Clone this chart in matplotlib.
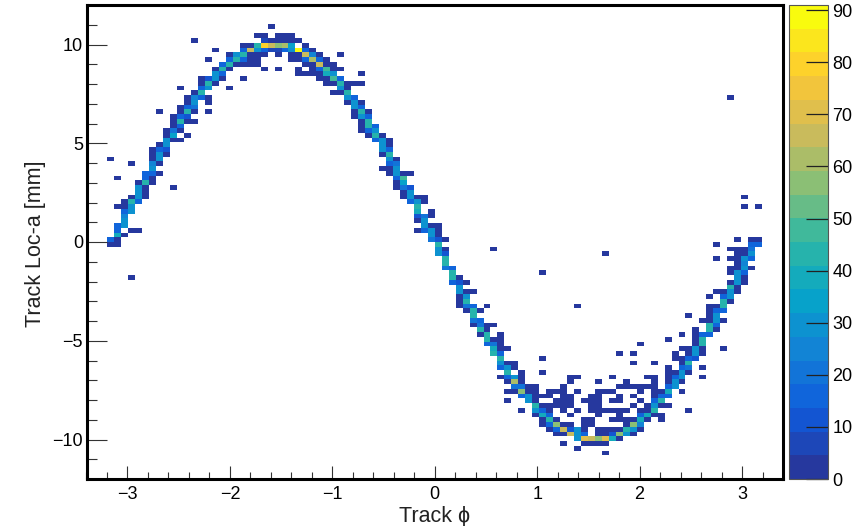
import matplotlib
matplotlib.use('Agg')

import matplotlib.pyplot as plt
from matplotlib.colors import BoundaryNorm, LinearSegmentedColormap, ListedColormap
from matplotlib.ticker import MultipleLocator
import numpy as np

plt.rcParams['font.family'] = ['Liberation Sans', 'DejaVu Sans']

# 2D histogram binning
n_bins = 100
phi_min, phi_max = -3.4, 3.4
loc_min, loc_max = -12, 12
z_max = 91

# ROOT kBird palette stops, first one nudged to the bluer navy of the picture
bird_colors = [(0.15, 0.22, 0.62), (0.0592, 0.3599, 0.8684), (0.0780, 0.5041, 0.8385),
               (0.0232, 0.6419, 0.7914), (0.1802, 0.7178, 0.6425), (0.5301, 0.7492, 0.4662),
               (0.8186, 0.7328, 0.3499), (0.9956, 0.7862, 0.1968), (0.9764, 0.9832, 0.0539)]

# filled bins read row by row: loc bin, phi bins in that row, entries in those bins
loc_rows = [5, 6, 7, 8, 9, 10, 11, 12, 13, 14, 15, 16, 17, 18, 19, 20, 21, 22, 23, 24, 25, 26, 27, 28, 29, 30,
            31, 32, 33, 34, 35, 36, 37, 38, 39, 40, 41, 42, 43, 44, 45, 46, 47, 48, 49, 50, 51, 52, 53, 54, 55,
            56, 57, 58, 59, 60, 61, 62, 63, 64, 65, 66, 67, 68, 69, 70, 71, 72, 73, 74, 75, 76, 77, 78, 79, 80,
            81, 82, 83, 84, 85, 86, 87, 88, 89, 90, 91, 92, 93, 95]

phi_by_row = [
    [74],
    [70],
    [68, 71, 72, 73, 74],
    [70, 71, 72, 73, 74, 75, 76],
    [67, 68, 69, 70, 71, 73, 74, 75, 76, 77, 78],
    [66, 67, 68, 69, 70, 71, 73, 74, 75, 76, 77, 78, 79],
    [65, 66, 67, 68, 69, 71, 72, 77, 78, 79],
    [65, 66, 67, 71, 72, 75, 76, 77, 78, 79, 80, 82],
    [64, 65, 66, 69, 73, 76, 79, 80, 81, 82],
    [62, 64, 65, 66, 68, 70, 72, 73, 74, 75, 76, 77, 79, 80, 81, 86],
    [64, 65, 66, 67, 68, 69, 72, 73, 78, 80, 81, 82, 83],
    [60, 63, 64, 67, 68, 69, 71, 72, 73, 75, 76, 79, 81, 82],
    [62, 63, 64, 65, 66, 68, 69, 72, 73, 76, 78, 81, 82, 83],
    [60, 61, 62, 63, 64, 66, 67, 68, 70, 73, 74, 75, 79, 81, 82, 83, 85],
    [61, 62, 63, 64, 68, 76, 77, 78, 79, 80, 81, 83, 84],
    [60, 61, 62, 69, 73, 77, 81, 83, 84, 85],
    [59, 60, 61, 62, 69, 70, 75, 80, 81, 83, 84, 85, 88],
    [60, 62, 65, 83, 84, 85, 86],
    [59, 60, 61, 83, 85, 86, 88],
    [59, 60, 61, 78, 81, 85, 86],
    [59, 65, 84, 85, 86, 87],
    [58, 59, 76, 78, 84, 86, 87, 88],
    [58, 59, 60, 85, 86, 87, 88, 91],
    [57, 58, 59, 79, 87, 88],
    [57, 58, 59, 83, 87, 88],
    [56, 57, 59, 85, 87, 88, 89],
    [56, 57, 87, 89, 90],
    [55, 56, 57, 58, 89, 90],
    [55, 56, 88, 89, 90, 91],
    [55, 86, 89, 90],
    [54, 55, 56, 89, 90, 91],
    [53, 54, 55, 57, 70, 89, 90, 91],
    [53, 54, 91, 92],
    [53, 54, 89, 91, 92],
    [53, 54, 55, 90, 91, 92, 93],
    [53, 92, 93],
    [52, 53, 54, 92, 93, 94],
    [6, 52, 53, 93, 94],
    [52, 65, 92, 93, 94],
    [51, 52, 92, 93, 94, 95],
    [51, 93, 94],
    [51, 90, 92, 93, 94, 95],
    [50, 51, 74, 93, 94, 95],
    [50, 51, 58, 92, 93, 94, 95],
    [3, 4, 50, 90, 95, 96],
    [3, 4, 49, 50, 51, 93, 95, 96],
    [4, 5, 49, 50],
    [4, 6, 7, 47, 48, 49, 50],
    [4, 5, 48, 49, 50],
    [5, 47, 48],
    [5, 47, 48, 49],
    [5, 6, 47, 49],
    [4, 5, 6, 47, 94, 96],
    [5, 6, 7, 46, 47, 48],
    [6, 7, 8, 45, 46, 47, 48, 94],
    [7, 8, 45, 46],
    [7, 8, 12, 44, 45, 46],
    [7, 8, 9, 44, 45],
    [4, 8, 9, 44, 45],
    [8, 9, 10, 43, 44, 45, 46],
    [9, 42, 43, 44],
    [6, 9, 10, 43, 44],
    [3, 9, 10, 43, 44],
    [9, 10, 11, 42, 43],
    [9, 10, 11, 42, 43],
    [10, 11, 42, 43],
    [11, 12, 13, 41, 42, 43],
    [11, 12, 14, 40, 41, 42],
    [11, 12, 13, 39, 40, 41],
    [12, 13, 39, 40, 41],
    [12, 13, 14, 15, 39, 40],
    [12, 13, 14, 38, 39, 40],
    [10, 13, 14, 15, 17, 38, 39, 40],
    [13, 14, 15, 38, 39],
    [14, 15, 17, 37, 38, 39],
    [14, 15, 16, 17, 37, 38, 92],
    [15, 16, 35, 36, 37],
    [13, 16, 17, 20, 36, 37],
    [16, 17, 18, 34, 35, 36, 37, 38, 39],
    [16, 17, 18, 19, 22, 33, 34, 35, 36],
    [18, 19, 30, 31, 32, 33, 34, 35, 39],
    [18, 19, 20, 25, 27, 30, 32, 33, 34, 35, 36],
    [19, 20, 21, 22, 23, 24, 31, 32, 33, 34, 35],
    [17, 20, 21, 22, 23, 24, 29, 30, 31, 32, 33, 34],
    [20, 21, 22, 23, 24, 25, 27, 29, 30, 31, 32, 33, 36],
    [18, 22, 23, 24, 25, 26, 27, 28, 29, 30, 31, 32],
    [22, 23, 24, 25, 26, 27, 28, 29, 31],
    [15, 25, 26, 27, 28, 29, 30],
    [24, 25, 27, 28, 29],
    [26],
]

counts_by_row = [
    [2],
    [2],
    [2, 2, 2, 2, 2],
    [28, 72, 66, 58, 72, 40, 2],
    [2, 2, 68, 30, 14, 2, 2, 11, 55, 28, 2],
    [2, 14, 66, 11, 28, 2, 2, 2, 2, 2, 42, 28, 2],
    [2, 14, 55, 2, 2, 2, 2, 2, 55, 25],
    [2, 42, 2, 2, 2, 2, 2, 2, 2, 40, 2, 2],
    [2, 40, 14, 2, 2, 2, 14, 40, 2, 2],
    [2, 30, 14, 2, 2, 2, 2, 2, 2, 2, 2, 2, 2, 2, 42, 2],
    [42, 2, 2, 2, 2, 2, 2, 2, 2, 2, 30, 2, 2],
    [2, 30, 2, 2, 2, 2, 2, 2, 2, 2, 2, 2, 14, 45],
    [14, 30, 2, 2, 2, 2, 2, 2, 2, 2, 2, 2, 14, 14],
    [2, 2, 55, 2, 2, 2, 2, 2, 2, 2, 2, 2, 2, 2, 2, 40, 2],
    [20, 20, 2, 2, 2, 2, 2, 2, 2, 2, 2, 14, 30],
    [2, 62, 2, 2, 2, 2, 2, 2, 30, 2],
    [2, 14, 30, 2, 2, 2, 2, 2, 2, 2, 14, 30, 2],
    [42, 2, 2, 2, 2, 30, 2],
    [14, 30, 2, 2, 14, 20, 2],
    [30, 2, 2, 2, 2, 2, 42],
    [42, 2, 2, 2, 14, 11],
    [42, 14, 2, 2, 2, 2, 30, 2],
    [40, 2, 2, 2, 2, 30, 2, 2],
    [14, 20, 2, 2, 2, 42],
    [42, 2, 2, 2, 2, 42],
    [2, 42, 2, 2, 2, 14, 14],
    [42, 2, 2, 42, 2],
    [2, 20, 2, 2, 42, 14],
    [20, 14, 2, 2, 30, 2],
    [42, 2, 2, 30],
    [2, 42, 2, 2, 14, 14],
    [2, 20, 14, 2, 2, 2, 2, 42],
    [2, 42, 42, 2],
    [2, 30, 2, 14, 28],
    [30, 2, 2, 2, 2, 28, 2],
    [30, 42, 2],
    [14, 11, 2, 2, 28, 2],
    [2, 42, 2, 28, 2],
    [42, 2, 2, 28, 14],
    [20, 14, 2, 2, 30, 2],
    [42, 2, 25],
    [42, 2, 2, 2, 30, 14],
    [30, 11, 2, 2, 2, 30],
    [30, 2, 2, 2, 2, 2, 20],
    [2, 2, 42, 2, 14, 14],
    [16, 2, 20, 11, 2, 2, 2, 2],
    [40, 2, 30, 2],
    [14, 2, 2, 2, 14, 30, 2],
    [16, 30, 30, 2, 2],
    [28, 2, 30],
    [25, 11, 20, 2],
    [14, 28, 40, 2],
    [2, 2, 30, 42, 2, 2],
    [2, 42, 14, 14, 30, 2],
    [2, 30, 2, 2, 30, 2, 2, 2],
    [30, 2, 2, 30],
    [30, 2, 2, 2, 20, 11],
    [2, 42, 2, 2, 35],
    [2, 14, 2, 14, 50],
    [14, 14, 2, 2, 30, 2, 2],
    [30, 2, 2, 30],
    [2, 25, 2, 14, 20],
    [2, 2, 30, 30, 2],
    [2, 30, 2, 2, 42],
    [2, 14, 11, 30, 14],
    [2, 30, 30, 2],
    [30, 2, 2, 14, 30, 2],
    [2, 35, 2, 2, 42, 2],
    [2, 20, 2, 2, 14, 30],
    [2, 14, 2, 42, 14],
    [2, 42, 2, 2, 2, 42],
    [2, 14, 11, 2, 30, 14],
    [2, 2, 42, 2, 2, 2, 42, 2],
    [2, 14, 20, 30, 14],
    [2, 30, 2, 2, 30, 2],
    [2, 25, 14, 2, 30, 14, 2],
    [2, 42, 2, 2, 42],
    [2, 14, 28, 2, 30, 2],
    [2, 42, 2, 2, 2, 42, 2, 2, 2],
    [2, 11, 30, 2, 2, 2, 2, 50, 14],
    [30, 14, 2, 2, 2, 2, 38, 30, 2],
    [2, 45, 2, 2, 2, 2, 2, 14, 48, 2, 2],
    [14, 45, 2, 2, 2, 2, 2, 2, 64, 2, 2],
    [2, 14, 45, 14, 2, 2, 2, 2, 14, 60, 14, 2],
    [2, 30, 45, 2, 2, 2, 2, 2, 2, 68, 25, 2, 2],
    [2, 14, 68, 28, 14, 6, 6, 14, 30, 91, 14, 2],
    [2, 2, 42, 80, 68, 58, 62, 35, 2],
    [2, 6, 2, 2, 2, 2, 2],
    [2, 2, 2, 2, 2],
    [2],
]

cbar_ticks = [0, 10, 20, 30, 40, 50, 60, 70, 80, 90]

# fill the histogram from the rows above
hist = np.zeros((n_bins, n_bins))
for row, phis, counts in zip(loc_rows, phi_by_row, counts_by_row, strict=True):
    for col, count in zip(phis, counts, strict=True):
        hist[row, col] = count

phi_edges = np.linspace(phi_min, phi_max, n_bins + 1)
loc_edges = np.linspace(loc_min, loc_max, n_bins + 1)

bird = LinearSegmentedColormap.from_list("bird", bird_colors)
cmap = ListedColormap(bird(np.linspace(0, 1, 20)))
levels = np.linspace(0, z_max, 21)
norm = BoundaryNorm(levels, cmap.N)

fig = plt.figure(figsize=(8.61, 5.26), dpi=100)
ax = fig.add_axes([86.5 / 861, 1 - 479 / 526, (783 - 86.5) / 861, (479 - 5) / 526])
cax = fig.add_axes([789 / 861, 1 - 479 / 526, (828 - 789) / 861, (479 - 5) / 526])

mesh = ax.pcolormesh(phi_edges, loc_edges, np.ma.masked_equal(hist, 0), cmap=cmap, norm=norm)

ax.set_xlim(phi_min, phi_max)
ax.set_ylim(loc_min, loc_max)
ax.xaxis.set_major_locator(MultipleLocator(1))
ax.xaxis.set_minor_locator(MultipleLocator(0.2))
ax.yaxis.set_major_locator(MultipleLocator(5))
ax.yaxis.set_minor_locator(MultipleLocator(1))
ax.tick_params(axis='x', which='major', direction='in', length=9.5, width=0.8, color='#333333', labelsize=13, pad=5)
ax.tick_params(axis='x', which='minor', direction='in', length=4.8, width=0.8, color='#333333')
ax.tick_params(axis='y', which='major', direction='in', length=14.5, width=0.8, color='#333333', labelsize=13, pad=2.5)
ax.tick_params(axis='y', which='minor', direction='in', length=7, width=0.8, color='#333333')
for spine in ax.spines.values():
    spine.set_linewidth(2.2)

ax.set_xlabel("Track \u03d5", fontsize=15.5, color='#222222', va='center')
ax.set_ylabel("Track Loc-a [mm]", fontsize=15.5, color='#222222', va='center')
ax.xaxis.set_label_coords(0.5, -0.0785)
ax.yaxis.set_label_coords(-0.0732, 0.496)

cbar = fig.colorbar(mesh, cax=cax, spacing='proportional', ticks=cbar_ticks)
cbar.minorticks_off()
cbar.outline.set_linewidth(0.8)
cbar.outline.set_edgecolor('#555555')
cax.yaxis.set_ticks_position('right')
cax.tick_params(direction='in', length=15.5, width=0.9, color='#222222', labelsize=13, pad=3)

plt.savefig("out.png", dpi=100)
